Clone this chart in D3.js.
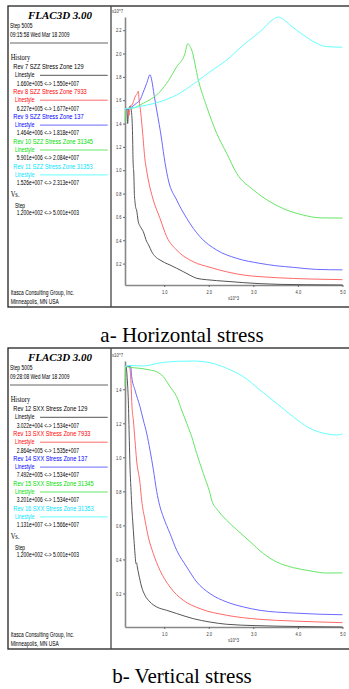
<!DOCTYPE html>
<html>
<head>
<meta charset="utf-8">
<script src="https://cdn.jsdelivr.net/npm/d3@7"></script>
<style>
  body { margin: 0; background: #fff; }
  svg { display: block; }
</style>
</head>
<body>
<div id="chart"></div>
<script>
var svgWidth = 349;
var svgHeight = 689;

// step axis (x10^3)
var stepDomain = [0.12, 5.001];
var stepTicks = [1, 2, 3, 4, 5];
var stepText = "1.200e+002 <-> 5.001e+003";

// a- Horizontal stress (SZZ, x10^7)
var hDate = "09:15:58 Wed Mar 18 2009";
var hTicks = [0.2, 0.4, 0.6, 0.8, 1.0, 1.2, 1.4, 1.6, 1.8, 2.0, 2.2];
var hLabels = ["Rev 7 SZZ Stress Zone 129", "Rev 8 SZZ Stress Zone 7933", "Rev 9 SZZ Stress Zone 137",
  "Rev 10 SZZ Stress Zone 31345", "Rev 11 SZZ Stress Zone 31353"];
var hRanges = ["1.660e+005 <-> 1.550e+007", "6.227e+005 <-> 1.677e+007", "1.464e+006 <-> 1.818e+007",
  "5.901e+006 <-> 2.084e+007", "1.526e+007 <-> 2.313e+007"];
var hBlack = [[0.12,1.53],[0.16,1.53],[0.18,1.40],[0.20,1.52],[0.24,1.55],[0.27,1.48],[0.29,1.30],[0.30,1.09],
  [0.32,0.95],[0.33,0.80],[0.344,0.73],[0.36,0.68],[0.38,0.659],[0.418,0.559],[0.46,0.52],[0.531,0.473],
  [0.607,0.388],[0.65,0.36],[0.719,0.302],[0.80,0.26],[0.905,0.231],[1.0,0.21],[1.13,0.188],[1.28,0.16],
  [1.428,0.131],[1.58,0.10],[1.729,0.074],[1.95,0.062],[2.178,0.054],[2.5,0.045],[2.775,0.037],[3.15,0.028],
  [3.6,0.022],[4.2,0.019],[5.0,0.0166]];
var hRed = [[0.12,1.53],[0.18,1.52],[0.21,1.47],[0.24,1.55],[0.28,1.56],[0.32,1.60],[0.36,1.64],[0.40,1.66],
  [0.418,1.677],[0.437,1.60],[0.457,1.545],[0.49,1.43],[0.517,1.316],[0.569,1.088],[0.60,1.01],[0.643,0.917],
  [0.755,0.745],[0.905,0.588],[1.056,0.43],[1.28,0.316],[1.653,0.216],[2.028,0.168],[2.4,0.13],[2.775,0.102],
  [3.15,0.088],[3.524,0.079],[4.27,0.068],[5.0,0.0623]];
var hBlue = [[0.12,1.53],[0.2,1.52],[0.232,1.531],[0.3,1.55],[0.38,1.575],[0.457,1.602],[0.53,1.67],
  [0.607,1.745],[0.681,1.818],[0.719,1.773],[0.775,1.64],[0.831,1.516],[0.944,1.259],[0.98,1.16],[1.02,1.06],
  [1.092,0.917],[1.28,0.745],[1.505,0.588],[1.803,0.43],[2.178,0.316],[2.627,0.245],[3.15,0.202],[3.5,0.182],
  [3.897,0.168],[4.42,0.150],[5.0,0.1464]];
var hGreen = [[0.12,1.41],[0.135,1.53],[0.25,1.53],[0.531,1.574],[0.905,1.673],[1.1,1.77],[1.28,1.887],
  [1.466,2.0],[1.527,2.084],[1.617,2.03],[1.765,1.773],[1.953,1.545],[2.178,1.316],[2.402,1.145],[2.627,0.973],
  [3.0,0.831],[3.374,0.730],[3.749,0.659],[4.12,0.616],[4.496,0.592],[5.0,0.5901]];
var hCyan = [[0.12,1.526],[0.232,1.531],[0.5,1.55],[0.905,1.587],[1.28,1.645],[1.729,1.759],[2.028,1.844],
  [2.402,1.944],[2.775,2.073],[3.15,2.187],[3.448,2.293],[3.56,2.313],[3.65,2.30],[3.82,2.245],[4.12,2.159],
  [4.42,2.088],[4.65,2.059],[5.0,2.054]];

// b- Vertical stress (SXX, x10^7)
var vDate = "09:28:08 Wed Mar 18 2009";
var vTicks = [0.2, 0.4, 0.6, 0.8, 1.0, 1.2, 1.4];
var vLabels = ["Rev 12 SXX Stress Zone 129", "Rev 13 SXX Stress Zone 7933", "Rev 14 SXX Stress Zone 137",
  "Rev 15 SXX Stress Zone 31345", "Rev 16 SXX Stress Zone 31353"];
var vRanges = ["3.022e+004 <-> 1.534e+007", "2.864e+005 <-> 1.535e+007", "7.492e+005 <-> 1.534e+007",
  "3.201e+006 <-> 1.534e+007", "1.131e+007 <-> 1.566e+007"];
var vBlack = [[0.12,1.534],[0.142,1.534],[0.172,1.454],[0.194,1.336],[0.217,1.1],[0.232,0.944],[0.255,0.807],
  [0.277,0.689],[0.292,0.631],[0.322,0.513],[0.344,0.435],[0.366,0.376],[0.38,0.38],[0.396,0.356],[0.457,0.278],
  [0.494,0.238],[0.569,0.189],[0.681,0.15],[0.831,0.121],[1.056,0.101],[1.28,0.082],[1.653,0.052],[2.028,0.032],
  [2.402,0.019],[3.06,0.011],[4.0,0.006],[5.0,0.003]];
var vRed = [[0.12,1.534],[0.217,1.535],[0.24,1.50],[0.255,1.435],[0.277,1.297],[0.307,1.219],[0.344,1.1],
  [0.38,0.984],[0.457,0.847],[0.494,0.748],[0.569,0.631],[0.643,0.532],[0.755,0.435],[0.905,0.336],[1.13,0.238],
  [1.428,0.16],[1.803,0.111],[2.402,0.072],[3.15,0.048],[3.897,0.038],[5.0,0.0286]];
var vBlue = [[0.12,1.534],[0.248,1.534],[0.27,1.474],[0.344,1.395],[0.457,1.297],[0.531,1.219],[0.607,1.141],
  [0.681,1.042],[0.755,0.93],[0.831,0.80],[0.9,0.715],[0.98,0.65],[1.13,0.552],[1.28,0.454],[1.505,0.356],
  [1.729,0.268],[2.028,0.199],[2.402,0.15],[2.775,0.121],[3.15,0.101],[3.897,0.085],[5.0,0.0749]];
var vGreen = [[0.12,1.415],[0.135,1.534],[0.2,1.53],[0.457,1.523],[0.681,1.513],[0.831,1.503],[0.98,1.474],
  [1.13,1.415],[1.28,1.356],[1.392,1.278],[1.505,1.2],[1.617,1.121],[1.729,1.023],[1.877,0.905],[2.028,0.788],
  [2.066,0.748],[2.2,0.69],[2.4,0.63],[2.627,0.575],[2.925,0.505],[3.224,0.435],[3.524,0.385],[3.897,0.352],
  [4.27,0.333],[4.645,0.3201],[5.0,0.321]];
var vCyan = [[0.12,1.534],[0.232,1.54],[0.531,1.537],[0.905,1.555],[1.28,1.564],[1.653,1.566],[2.028,1.556],
  [2.402,1.523],[2.775,1.474],[3.15,1.395],[3.524,1.317],[3.897,1.238],[4.27,1.17],[4.645,1.138],[4.87,1.131],
  [5.0,1.138]];

var lineColors = ["#555555", "#ff6a6a", "#6a6aff", "#66e666", "#66ffff"];
var textColors = ["#000000", "#ff0000", "#0000ff", "#00dd00", "#00e5ff"];
var sans = "'Liberation Sans', Arial, sans-serif";
var serif = "'Liberation Serif', 'Times New Roman', serif";

var svg = d3.select("#chart")
  .append("svg")
  .attr("width", svgWidth)
  .attr("height", svgHeight);

// squeeze text horizontally, the FLAC fonts are narrow
function condense(sel, k) {
  sel.each(function() {
    var w = this.getComputedTextLength();
    d3.select(this).attr("textLength", w * k).attr("lengthAdjust", "spacingAndGlyphs");
  });
}

function smallText(g, x, y, str, color, k) {
  var t = g.append("text")
    .attr("x", x)
    .attr("y", y)
    .attr("font-family", sans)
    .attr("font-size", 6.3)
    .attr("fill", color || "#000")
    .text(str);
  condense(t, k || 0.78);
  return t;
}

function drawPanel(top, p) {
  var g = svg.append("g").attr("transform", `translate(0, ${top})`);

  // frame
  g.append("rect")
    .attr("x", 8).attr("y", 0)
    .attr("width", 350).attr("height", 301)
    .attr("fill", "none").attr("stroke", "#222").attr("stroke-width", 1.3);
  g.append("line")
    .attr("x1", 111).attr("x2", 111).attr("y1", 0).attr("y2", 301)
    .attr("stroke", "#444").attr("stroke-width", 1.3);

  // legend side
  g.append("text")
    .attr("x", 60).attr("y", 13)
    .attr("text-anchor", "middle")
    .attr("font-family", serif).attr("font-size", 11)
    .attr("font-weight", "bold").attr("font-style", "italic")
    .text("FLAC3D 3.00");
  smallText(g, 10, 22, "Step 5005");
  smallText(g, 10, 31.3, p.date);
  g.append("line")
    .attr("x1", 10).attr("x2", 108).attr("y1", 37).attr("y2", 37)
    .attr("stroke", "#999").attr("stroke-width", 1.5);

  var hist = g.append("text")
    .attr("x", 10.7).attr("y", 54)
    .attr("font-family", serif).attr("font-size", 9)
    .text("History");
  condense(hist, 0.72);

  p.labels.forEach(function(lbl, i) {
    var base = 61 + 8.3 * 3 * i;
    smallText(g, 13.3, base + 2, lbl, textColors[i], 0.9);
    smallText(g, 15, base + 8.3 + 2, "Linestyle", textColors[i]);
    g.append("line")
      .attr("x1", 40).attr("x2", 107.7)
      .attr("y1", base + 8.3).attr("y2", base + 8.3)
      .attr("stroke", lineColors[i]).attr("stroke-width", 1);
    smallText(g, 16.7, base + 16.6 + 2, p.ranges[i]);
  });

  var vs = g.append("text")
    .attr("x", 10.7).attr("y", 190.5)
    .attr("font-family", serif).attr("font-size", 9)
    .text("Vs.");
  condense(vs, 0.72);
  smallText(g, 15, 201.5, "Step");
  smallText(g, 16.7, 209.2, stepText);
  smallText(g, 10.7, 289.3, "Itasca Consulting Group, Inc.");
  smallText(g, 10.7, 297.6, "Minneapolis, MN  USA");

  // plot side
  var allValues = d3.merge(p.series.map(s => s.map(d => d[1])));

  var xLinearScale = d3.scaleLinear()
    .domain(stepDomain)
    .range([125, 342.5]);

  var yLinearScale = d3.scaleLinear()
    .domain(d3.extent(allValues))
    .range([279, p.yTop]);

  var bottomAxis = d3.axisBottom(xLinearScale)
    .tickValues(stepTicks)
    .tickSize(2)
    .tickSizeOuter(0)
    .tickPadding(3)
    .tickFormat(d3.format(".1f"));

  var leftAxis = d3.axisLeft(yLinearScale)
    .tickValues(p.ticks)
    .tickSize(2)
    .tickSizeOuter(0)
    .tickPadding(1.5)
    .tickFormat(d3.format(".1f"));

  var xAxis = g.append("g")
    .attr("transform", "translate(0, 279)")
    .call(bottomAxis);

  var yAxis = g.append("g")
    .attr("transform", "translate(125, 0)")
    .call(leftAxis);

  [xAxis, yAxis].forEach(function(ax) {
    ax.select(".domain").attr("stroke", "#888").attr("stroke-width", 1.6);
    ax.selectAll(".tick line").attr("stroke", "#666");
    ax.selectAll(".tick text")
      .attr("font-family", sans)
      .attr("font-size", 5)
      .attr("fill", "#333")
      .call(condense, 0.8);
  });
  yAxis.selectAll(".tick text").attr("dy", "0.35em");

  smallText(g, 112, p.yTop - 4, "x10^7", "#333").attr("font-size", 5).call(condense, 0.85);
  smallText(g, 228, 294, "x10^3", "#333").attr("font-size", 5).call(condense, 0.85);

  var line = d3.line()
    .x(d => xLinearScale(d[0]))
    .y(d => yLinearScale(d[1]))
    .curve(d3.curveMonotoneX);

  p.series.forEach(function(s, i) {
    g.append("path")
      .datum(s)
      .attr("d", line)
      .attr("fill", "none")
      .attr("stroke", lineColors[i])
      .attr("stroke-width", 1);
  });
}

drawPanel(6, {
  date: hDate, labels: hLabels, ranges: hRanges, ticks: hTicks, yTop: 11,
  series: [hBlack, hRed, hBlue, hGreen, hCyan]
});

drawPanel(348, {
  date: vDate, labels: vLabels, ranges: vRanges, ticks: vTicks, yTop: 13,
  series: [vBlack, vRed, vBlue, vGreen, vCyan]
});

// captions
svg.append("text")
  .attr("x", 182).attr("y", 342)
  .attr("text-anchor", "middle")
  .attr("font-family", serif).attr("font-size", 21)
  .text("a- Horizontal stress");

svg.append("text")
  .attr("x", 182).attr("y", 683)
  .attr("text-anchor", "middle")
  .attr("font-family", serif).attr("font-size", 21)
  .text("b- Vertical stress");
</script>
</body>
</html>
